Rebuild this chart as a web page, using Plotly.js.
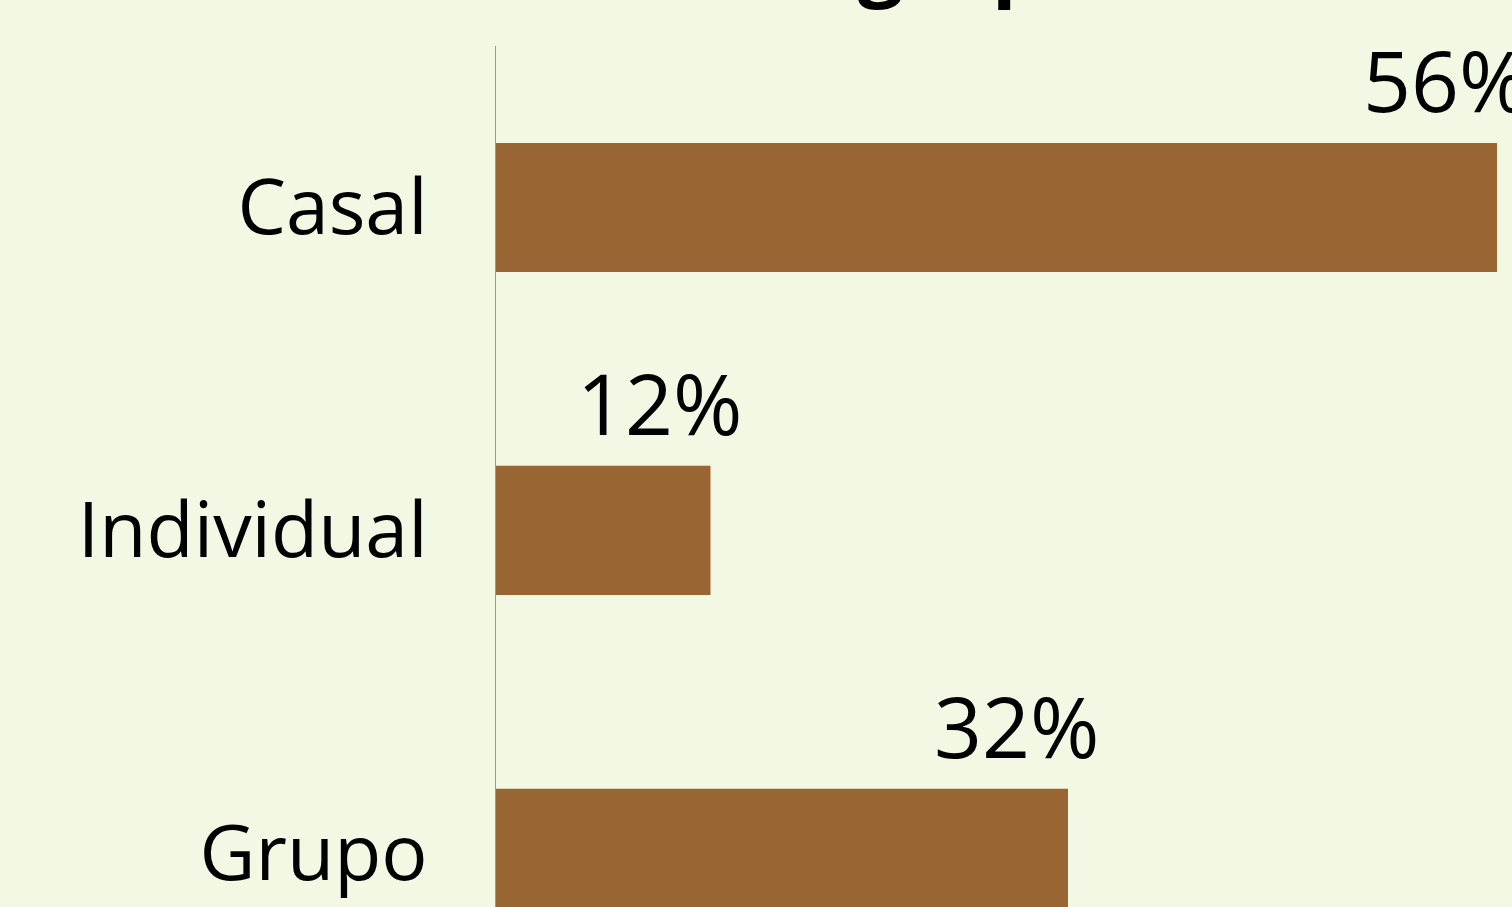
<!DOCTYPE html>
<html>
<head>
<meta charset="utf-8">
<script src="https://cdn.plot.ly/plotly-3.0.1.min.js"></script>
<style>
  html, body { margin: 0; padding: 0; background: #f2f8e3; overflow: hidden; }
  #chart { width: 1512px; height: 907px; }
</style>
</head>
<body>
<div id="chart"></div>
<script>
const categories = ["Casal", "Individual", "Grupo"];
const values = [56, 12, 32];
const valueLabels = ["56%", "12%", "32%"];
const chartTitle = "Tamanho do grupo";

const font = "'Open Sans', 'Noto Sans', sans-serif";
const barColor = "#996633";
const bg = "#f2f8e3";

const trace = {
  type: "bar",
  orientation: "h",
  x: values,
  y: categories,
  marker: { color: barColor, line: { width: 0 } },
  hoverinfo: "none"
};

const annotations = categories.map((c, i) => ({
  x: values[i],
  y: c,
  xref: "x",
  yref: "y",
  text: valueLabels[i],
  showarrow: false,
  xanchor: "right",
  yanchor: "middle",
  xshift: 33,
  yshift: 128,
  borderpad: 0,
  font: { family: font, size: 84, color: "#000" }
}));

// Title, mostly above the visible page (only descenders show)
annotations.push({
  xref: "paper",
  yref: "paper",
  x: -0.155,
  y: 1,
  xanchor: "left",
  yanchor: "bottom",
  yshift: 31,
  showarrow: false,
  borderpad: 0,
  text: "<b>" + chartTitle + "</b>",
  font: { family: font, size: 80, color: "#000" }
});

const layout = {
  width: 1512,
  height: 907,
  autosize: false,
  paper_bgcolor: bg,
  plot_bgcolor: bg,
  margin: { l: 496, r: 0, t: 46, b: 0, pad: 0 },
  showlegend: false,
  bargap: 0.6,
  xaxis: {
    range: [0, 56.84],
    showgrid: false,
    zeroline: false,
    showticklabels: false,
    showline: false,
    ticks: ""
  },
  yaxis: {
    type: "category",
    categoryorder: "array",
    categoryarray: categories,
    range: [2.166, -0.5],
    showgrid: false,
    zeroline: false,
    showline: true,
    linecolor: "#999999",
    linewidth: 1,
    ticks: "outside",
    ticklen: 52,
    tickcolor: "rgba(0,0,0,0)",
    tickfont: { family: font, size: 77, color: "#000" }
  },
  annotations: annotations
};

Plotly.newPlot("chart", [trace], layout, { displayModeBar: false, staticPlot: true });
</script>
</body>
</html>
